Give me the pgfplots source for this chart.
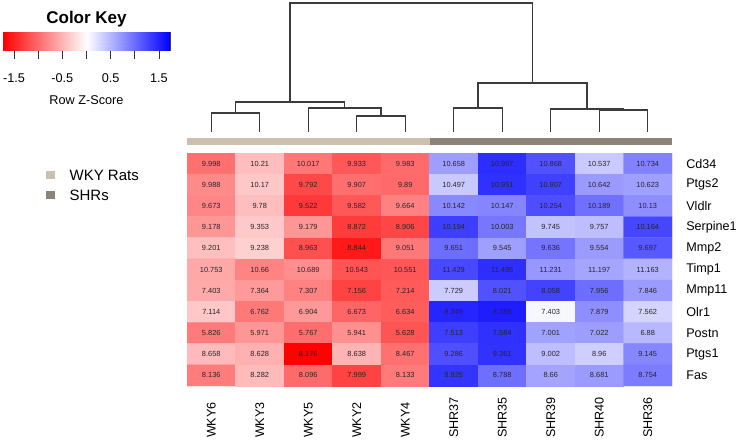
\documentclass[border=0pt]{standalone}
\usepackage{pgfplots}
\pgfplotsset{compat=1.18}
\usepackage{pgfplotstable}
\usepackage{fontspec}
\setmainfont{Liberation Sans}

\definecolor{wkycol}{RGB}{205,192,176}
\definecolor{shrcol}{RGB}{139,131,120}
\definecolor{treecol}{RGB}{60,60,60}
\newcommand\fs[1]{\fontsize{#1bp}{#1bp}\selectfont}

\pgfplotsset{
  colormap={zscore}{rgb255=(255,0,0) rgb255=(255,255,255) rgb255=(0,0,255)},
  tree/.style={treecol,line width=1.3bp,mark=none},
}

% x = sample, y = gene (Fas=0 ... Cd34=10), z = row z-score, v = expression
\pgfplotstableread{
x y z v
0 10 -0.970 9.998
1 10 -0.446 10.21
2 10 -0.923 10.017
3 10 -1.131 9.933
4 10 -1.007 9.983
5 10 0.661 10.658
6 10 1.425 10.967
7 10 1.180 10.868
8 10 0.362 10.537
9 10 0.849 10.734
0 9 -0.794 9.988
1 9 -0.380 10.17
2 9 -1.241 9.792
3 9 -0.979 9.907
4 9 -1.018 9.89
5 9 0.365 10.497
6 9 1.400 10.951
7 9 1.299 10.907
8 9 0.696 10.642
9 9 0.652 10.623
0 8 -0.817 9.673
1 8 -0.446 9.78
2 8 -1.342 9.522
3 8 -1.133 9.582
4 8 -0.848 9.664
5 8 0.812 10.142
6 8 0.829 10.147
7 8 1.201 10.254
8 8 0.975 10.189
9 8 0.770 10.13
0 7 -0.712 9.178
1 7 -0.363 9.353
2 7 -0.710 9.179
3 7 -1.322 8.872
4 7 -1.254 8.906
5 7 1.313 10.194
6 7 0.933 10.003
7 7 0.418 9.745
8 7 0.442 9.757
9 7 1.254 10.164
0 6 -0.433 9.201
1 6 -0.316 9.238
2 6 -1.185 8.963
3 6 -1.561 8.844
4 6 -0.907 9.051
5 6 0.989 9.651
6 6 0.654 9.545
7 6 0.942 9.636
8 6 0.683 9.554
9 6 1.135 9.697
0 5 -0.592 10.753
1 5 -0.844 10.66
2 5 -0.765 10.689
3 5 -1.161 10.543
4 5 -1.140 10.551
5 5 1.242 11.429
6 5 1.421 11.495
7 5 0.705 11.231
8 5 0.613 11.197
9 5 0.521 11.163
0 4 -0.574 7.403
1 4 -0.685 7.364
2 4 -0.847 7.307
3 4 -1.276 7.156
4 4 -1.111 7.214
5 4 0.351 7.729
6 4 1.180 8.021
7 4 1.285 8.058
8 4 0.995 7.956
9 4 0.683 7.846
0 3 -0.381 7.114
1 3 -0.910 6.762
2 3 -0.697 6.904
3 3 -1.044 6.673
4 3 -1.103 6.634
5 3 1.478 8.349
6 3 1.538 8.389
7 3 0.054 7.403
8 3 0.771 7.879
9 3 0.294 7.562
0 2 -0.903 5.826
1 2 -0.713 5.971
2 2 -0.981 5.767
3 2 -0.752 5.941
4 2 -1.163 5.628
5 2 1.314 7.513
6 2 1.407 7.584
7 2 0.641 7.001
8 2 0.668 7.022
9 2 0.482 6.88
0 1 -0.458 8.658
1 1 -0.537 8.628
2 1 -1.725 8.176
3 1 -0.510 8.638
4 1 -0.960 8.467
5 1 1.193 9.286
6 1 1.390 9.361
7 1 0.447 9.002
8 1 0.336 8.96
9 1 0.823 9.145
0 0 -0.891 8.136
1 0 -0.470 8.282
2 0 -1.006 8.096
3 0 -1.285 7.999
4 0 -0.900 8.133
5 0 1.381 8.925
6 0 0.986 8.788
7 0 0.618 8.66
8 0 0.678 8.681
9 0 0.889 8.754
}\heat

\begin{document}
\begin{tikzpicture}
\path[use as bounding box] (0,0) rectangle (739bp,-445bp);

% colour key
\begin{axis}[
  at={(3bp,-32bp)}, anchor=north west, scale only axis,
  width=167bp, height=18bp,
  xmin=-1.73, xmax=1.73, ymin=0, ymax=1,
  colormap name=zscore, point meta min=-1.73, point meta max=1.73,
  axis line style={black!75,line width=0.8bp},
  ytick=\empty,
  xtick={-1.5,-1,-0.5,0,0.5,1,1.5},
  xticklabels={-1.5,,-0.5,,0.5,,1.5},
  xtick pos=left, xtick align=outside,
  major tick length=9bp,
  tick style={black!80,line width=0.8bp},
  xticklabel shift=11bp,
  tick label style={font=\fs{12.7}},
  title={\bfseries Color Key},
  title style={font=\fs{17},at={(axis description cs:0.5,1)},anchor=south,yshift=-5bp},
  xlabel={Row Z-Score},
  xlabel style={font=\fs{12.7},at={(axis description cs:0.5,0)},anchor=north,yshift=-42bp},
]
\addplot[surf,shader=interp,point meta=x,mesh/rows=2] coordinates {(-1.73,0) (1.73,0) (-1.73,1) (1.73,1)};
\end{axis}

% dendrogram
\begin{axis}[
  at={(187bp,-3bp)}, anchor=north west, scale only axis,
  width=485bp, height=129bp,
  xmin=-0.5, xmax=9.5, ymin=0, ymax=129,
  hide axis, clip=false,
]
\addplot[tree] coordinates {(0,0) (0,19) (1,19) (1,0)};
\addplot[tree] coordinates {(3,0) (3,16) (4,16) (4,0)};
\addplot[tree] coordinates {(2,0) (2,24) (3.5,24) (3.5,16)};
\addplot[tree] coordinates {(0.5,19) (0.5,30) (2.75,30) (2.75,24)};
\addplot[tree] coordinates {(5,0) (5,24) (6,24) (6,0)};
\addplot[tree] coordinates {(8,0) (8,22) (9,22) (9,0)};
\addplot[tree] coordinates {(7,0) (7,23) (8.5,23) (8.5,22)};
\addplot[tree] coordinates {(5.5,24) (5.5,49) (7.75,49) (7.75,23)};
\addplot[tree] coordinates {(1.625,30) (1.625,129) (6.625,129) (6.625,49)};
\end{axis}

% group bar and legend
\begin{axis}[
  at={(187bp,-138bp)}, anchor=north west, scale only axis,
  width=485bp, height=7bp,
  xmin=-0.5, xmax=9.5, ymin=0, ymax=1,
  hide axis,
  legend style={at={(axis description cs:-0.298,-3.0)},anchor=north west,
    draw=none,fill=none,font=\fs{15},nodes={inner sep=2bp},
    column sep=13bp,row sep=4bp},
  legend cell align=left,
  legend image code/.code={\path[#1] (0bp,-3bp) rectangle (9bp,5bp);},
]
\addplot[fill=wkycol,draw=none] coordinates {(-0.5,1) (4.5,1)} \closedcycle;
\addplot[fill=shrcol,draw=none] coordinates {(4.5,1) (9.5,1)} \closedcycle;
\legend{WKY Rats,SHRs}
\end{axis}

% heatmap
\begin{axis}[
  at={(187bp,-153bp)}, anchor=north west, scale only axis,
  width=485bp, height=233bp,
  xmin=-0.5, xmax=9.5, ymin=-0.5, ymax=10.5,
  colormap name=zscore, point meta min=-1.73, point meta max=1.73,
  axis line style={draw=none}, tick style={draw=none},
  xtick={0,...,9},
  xticklabels={WKY6,WKY3,WKY5,WKY2,WKY4,SHR37,SHR35,SHR39,SHR40,SHR36},
  xticklabel style={rotate=90,anchor=west},
  xticklabel shift=55.5bp,
  ytick={0,...,10},
  yticklabels={Fas,Ptgs1,Postn,Olr1,Mmp11,Timp1,Mmp2,Serpine1,Vldlr,Ptgs2,Cd34},
  yticklabel pos=right,
  yticklabel style={anchor=west},
  yticklabel shift=10.8bp,
  tick label style={font=\fs{12.6}},
]
\addplot[matrix plot*,mesh/cols=10,point meta=explicit] table[x=x,y=y,meta=z] {\heat};
\addplot[only marks,mark=none,nodes near coords,point meta=explicit symbolic,
  every node near coord/.append style={anchor=center,font=\fs{7.4},text=black!85}]
  table[x=x,y=y,meta=v] {\heat};
\end{axis}
\end{tikzpicture}
\end{document}
